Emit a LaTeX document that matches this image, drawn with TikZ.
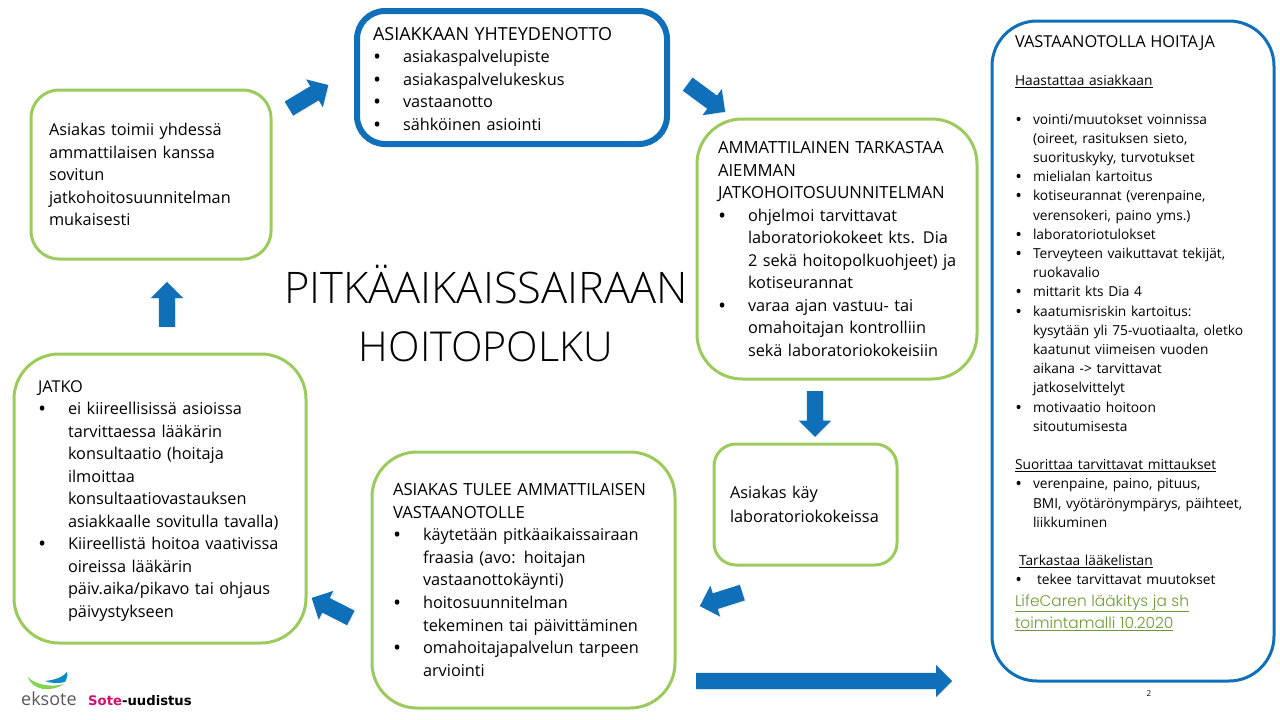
\documentclass[tikz,border=0pt]{standalone}
\usepackage{fontspec}
\setmainfont{Open Sans}
\newfontfamily\titlef{Open Sans Light}
\newfontfamily\linkf{Poppins Light}
\newfontfamily\sotef{DejaVu Sans}
\usetikzlibrary{shapes.arrows,shadows}
\definecolor{boxgreen}{HTML}{9BCB5C}
\definecolor{boxblue}{HTML}{0F6FB8}
\definecolor{arrowblue}{HTML}{0F6FB8}
\definecolor{linkgreen}{HTML}{6E9A34}
\definecolor{sote}{HTML}{D0106F}
\newcommand{\bl}[2][27pt]{\mbox{\makebox[#1][l]{\hspace{1pt}\textbf{•}}#2}}
\newcommand{\ct}[2][27pt]{\mbox{\hspace*{#1}#2}}
\newcommand{\pl}[1]{\mbox{#1}}
\tikzset{
  x=1pt,y=-1pt,
  flowbox/.style={draw=boxgreen,line width=3pt,fill=white,rectangle,align=left,inner ysep=0pt,text=black},
  bluebox/.style={flowbox,draw=boxblue},
  big/.style={font=\fontsize{16.3}{22.55}\selectfont},
  small/.style={font=\fontsize{13.75}{19.2}\selectfont},
  flowarrow/.style={single arrow,fill=arrowblue,draw=none,inner xsep=0pt,inner ysep=8pt,single arrow head extend=8pt,minimum width=0pt,anchor=tail,drop shadow={opacity=.12,shadow xshift=1pt,shadow yshift=-1.2pt}},
}
\begin{document}
\begin{tikzpicture}
\useasboundingbox (0,0) rectangle (1280,720);
% boxes
\node[bluebox,big,line width=6pt,rounded corners=28pt,minimum height=133pt,text width=278pt,inner xsep=16pt] (contact) at (512,77.5) {%
\rule{0pt}{15.5pt}\pl{\fontsize{18}{22}\selectfont ASIAKKAAN YHTEYDENOTTO}\\
\bl[30pt]{asiakaspalvelupiste}\\
\bl[30pt]{asiakaspalvelukeskus}\\
\bl[30pt]{vastaanotto}\\
\bl[30pt]{sähköinen asiointi}};
\node[flowbox,big,rounded corners=28pt,minimum height=169pt,text width=204pt,inner xsep=18pt] (follow) at (151,174.5) {%
\pl{Asiakas toimii yhdessä}\\
\pl{ammattilaisen kanssa}\\
\pl{sovitun}\\
\pl{jatkohoitosuunnitelman}\\
\pl{mukaisesti}};
\node[flowbox,big,rounded corners=45pt,minimum height=260pt,text width=238pt,inner xsep=21pt] (check) at (837,249) {%
\pl{\fontsize{16.7}{22}\selectfont AMMATTILAINEN TARKASTAA}\\
\pl{\fontsize{16.7}{22}\selectfont AIEMMAN}\\
\pl{\fontsize{16.7}{22}\selectfont JATKOHOITOSUUNNITELMAN}\\
\bl[30pt]{ohjelmoi tarvittavat}\\
\ct[30pt]{laboratoriokokeet kts. Dia}\\
\ct[30pt]{2 sekä hoitopolkuohjeet) ja}\\
\ct[30pt]{kotiseurannat}\\
\bl[30pt]{varaa ajan vastuu- tai}\\
\ct[30pt]{omahoitajan kontrolliin}\\
\ct[30pt]{sekä laboratoriokokeisiin}};
\node[flowbox,big,rounded corners=22pt,minimum height=121pt,text width=151pt,inner xsep=16pt] (lab) at (805.5,504.5) {%
\pl{Asiakas käy}\\[1.5pt]
\pl{laboratoriokokeissa}};
\node[flowbox,big,rounded corners=45pt,minimum height=256pt,text width=261pt,inner xsep=21pt] (visit) at (523.5,580) {%
\pl{\fontsize{16.7}{22}\selectfont ASIAKAS TULEE AMMATTILAISEN}\\
\pl{\fontsize{16.7}{22}\selectfont VASTAANOTOLLE}\\
\bl[30pt]{käytetään pitkäaikaissairaan}\\
\ct[30pt]{fraasia (avo: hoitajan}\\
\ct[30pt]{vastaanottokäynti)}\\
\bl[30pt]{hoitosuunnitelman}\\
\ct[30pt]{tekeminen tai päivittäminen}\\
\bl[30pt]{omahoitajapalvelun tarpeen}\\
\ct[30pt]{arviointi}};
\node[flowbox,big,rounded corners=45pt,minimum height=289pt,text width=244pt,inner xsep=24pt] (cont) at (160,498.5) {%
\rule{0pt}{16.5pt}\pl{JATKO}\\
\bl[30pt]{ei kiireellisissä asioissa}\\
\ct[30pt]{tarvittaessa lääkärin}\\
\ct[30pt]{konsultaatio (hoitaja}\\
\ct[30pt]{ilmoittaa}\\
\ct[30pt]{konsultaatiovastauksen}\\
\ct[30pt]{asiakkaalle sovitulla tavalla)}\\
\bl[30pt]{Kiireellistä hoitoa vaativissa}\\
\ct[30pt]{oireissa lääkärin}\\
\ct[30pt]{päiv.aika/pikavo tai ohjaus}\\
\ct[30pt]{päivystykseen}};
\node[bluebox,small,rounded corners=45pt,minimum height=660pt,text width=236pt,inner xsep=23pt] (nurse) at (1133,351) {%
\pl{\fontsize{16.4}{19.2}\selectfont VASTAANOTOLLA HOITAJA}\\[19.2pt]
\pl{\underline{Haastattaa asiakkaan}}\\[19.2pt]
\bl[18pt]{vointi/muutokset voinnissa}\\
\ct[18pt]{(oireet, rasituksen sieto,}\\
\ct[18pt]{suorituskyky, turvotukset}\\
\bl[18pt]{mielialan kartoitus}\\
\bl[18pt]{kotiseurannat (verenpaine,}\\
\ct[18pt]{verensokeri, paino yms.)}\\
\bl[18pt]{laboratoriotulokset}\\
\bl[18pt]{Terveyteen vaikuttavat tekijät,}\\
\ct[18pt]{ruokavalio}\\
\bl[18pt]{mittarit kts Dia 4}\\
\bl[18pt]{kaatumisriskin kartoitus:}\\
\ct[18pt]{kysytään yli 75-vuotiaalta, oletko}\\
\ct[18pt]{kaatunut viimeisen vuoden}\\
\ct[18pt]{aikana -> tarvittavat}\\
\ct[18pt]{jatkoselvittelyt}\\
\bl[18pt]{motivaatio hoitoon}\\
\ct[18pt]{sitoutumisesta}\\[19.2pt]
\pl{\underline{Suorittaa tarvittavat mittaukset}}\\
\bl[18pt]{verenpaine, paino, pituus,}\\
\ct[18pt]{BMI, vyötärönympärys, päihteet,}\\
\ct[18pt]{liikkuminen}\\[19.2pt]
\pl{\hspace*{4pt}\underline{Tarkastaa lääkelistan}}\\
\bl[22pt]{tekee tarvittavat muutokset}\\[2pt]
\pl{\linkf\color{linkgreen}\fontsize{15.4}{22}\selectfont\underline{LifeCaren lääkitys ja sh}}\\[3pt]
\pl{\linkf\color{linkgreen}\fontsize{15.4}{22}\selectfont\underline{toimintamalli 10.2020}}\\[19.2pt]
~};
% title
\node[font=\titlef\fontsize{41.6}{58}\selectfont,align=center,inner sep=0pt] (title) at (486,313) {{\fontsize{43.5}{58}\selectfont PITKÄAIKAISSAIRAAN}\\{\fontsize{41.2}{58}\selectfont HOITOPOLKU}};
% block arrows
\node[flowarrow,minimum height=46pt,rotate=30.9] (a1) at (288.7,108.7) {};
\node[flowarrow,minimum height=46.6pt,rotate=-36.4] (a2) at (687.5,84) {};
\node[flowarrow,minimum height=45.7pt,rotate=-90] (a3) at (815,391) {};
\node[flowarrow,minimum height=44.6pt,rotate=197.6] (a4) at (742.5,592.5) {};
\node[flowarrow,minimum height=44pt,rotate=153] (a5) at (351,618) {};
\node[flowarrow,minimum height=45pt,rotate=90] (a6) at (167,327) {};
\node[flowarrow,minimum height=256pt] (a7) at (696,681) {};
% logo
\fill[boxgreen!85!green] (28,677) .. controls (34,684) and (50,688) .. (64,684) .. controls (50,693) and (32,690) .. (28,677) -- cycle;
\fill[boxblue!80!cyan] (45,681) .. controls (55,680) and (63,677) .. (67,672) .. controls (68,676) and (67,679) .. (65,682) .. controls (58,684) and (50,683) .. (45,681) -- cycle;
\node[anchor=base west,inner sep=0pt,font=\fontsize{18}{20}\selectfont,text=black!65] (eksote) at (21,705) {eksote};
\node[anchor=base west,inner sep=0pt,font=\sotef\bfseries\fontsize{13.2}{14}\selectfont] (soteu) at (88,705.5) {\textcolor{sote}{Sote}-uudistus};
\node[inner sep=0pt,font=\fontsize{8}{9}\selectfont] (pagenum) at (1149,694) {2};
\end{tikzpicture}
\end{document}
